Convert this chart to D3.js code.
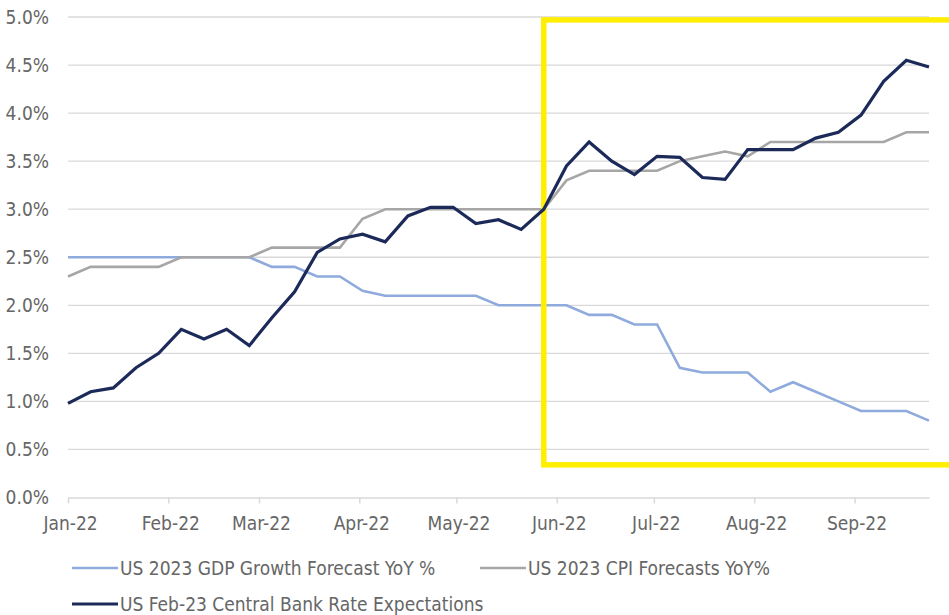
<!DOCTYPE html>
<html>
<head>
<meta charset="utf-8">
<script src="https://cdn.jsdelivr.net/npm/d3@7"></script>
<style>
  html, body { margin: 0; padding: 0; background: #fff; }
  svg { display: block; }
  text { font-family: "Liberation Sans Narrow", "Arial Narrow", "DejaVu Sans Condensed", sans-serif; fill: #666; }
</style>
</head>
<body>
<svg id="chart" width="949" height="615"></svg>
<script>
// Weekly observation dates
const weeks = [
  "2022-01-01","2022-01-08","2022-01-15","2022-01-22","2022-01-29",
  "2022-02-05","2022-02-12","2022-02-19","2022-02-26",
  "2022-03-05","2022-03-12","2022-03-19","2022-03-26",
  "2022-04-02","2022-04-09","2022-04-16","2022-04-23","2022-04-30",
  "2022-05-07","2022-05-14","2022-05-21","2022-05-28",
  "2022-06-04","2022-06-11","2022-06-18","2022-06-25",
  "2022-07-02","2022-07-09","2022-07-16","2022-07-23","2022-07-30",
  "2022-08-06","2022-08-13","2022-08-20","2022-08-27",
  "2022-09-03","2022-09-10","2022-09-17","2022-09-24"
];

// US 2023 GDP growth forecast, YoY %
const gdpForecast = [
  2.5, 2.5, 2.5, 2.5, 2.5, 2.5, 2.5, 2.5, 2.5,
  2.4, 2.4, 2.3, 2.3, 2.15, 2.1, 2.1, 2.1, 2.1, 2.1,
  2.0, 2.0, 2.0, 2.0, 1.9, 1.9, 1.8, 1.8, 1.35, 1.3, 1.3, 1.3,
  1.1, 1.2, 1.1, 1.0, 0.9, 0.9, 0.9, 0.8
];

// US 2023 CPI forecasts, YoY %
const cpiForecast = [
  2.3, 2.4, 2.4, 2.4, 2.4, 2.5, 2.5, 2.5, 2.5,
  2.6, 2.6, 2.6, 2.6, 2.9, 3.0, 3.0, 3.0, 3.0, 3.0,
  3.0, 3.0, 3.0, 3.3, 3.4, 3.4, 3.4, 3.4, 3.5, 3.55, 3.6, 3.55,
  3.7, 3.7, 3.7, 3.7, 3.7, 3.7, 3.8, 3.8
];

// US Feb-23 central bank rate expectations, %
const rateExpectations = [
  0.98, 1.10, 1.14, 1.35, 1.50, 1.75, 1.65, 1.75, 1.58,
  1.87, 2.14, 2.55, 2.69, 2.74, 2.66, 2.93, 3.02, 3.02, 2.85,
  2.89, 2.79, 3.00, 3.45, 3.70, 3.50, 3.36, 3.55, 3.54, 3.33, 3.31,
  3.62, 3.62, 3.62, 3.74, 3.80, 3.98, 4.33, 4.55, 4.48
];

const yTicks = [0, 0.5, 1.0, 1.5, 2.0, 2.5, 3.0, 3.5, 4.0, 4.5, 5.0];

const seriesNames = [
  "US 2023 GDP Growth Forecast YoY %",
  "US 2023 CPI Forecasts YoY%",
  "US Feb-23 Central Bank Rate Expectations"
];
const seriesColors = ["#8faadc", "#a6a6a6", "#1c2a5a"];

// Highlighted period (from this week onward), in % units
const highlightStart = "2022-05-28";
const highlightTop = 4.97;
const highlightBottom = 0.34;

const svg = d3.select("#chart");
const W = 949, H = 615;
const margin = { left: 68, right: 20, top: 17, bottom: 118 };
const fontSize = 19;

const parse = d3.utcParse("%Y-%m-%d");
const dates = weeks.map(parse);

const x = d3.scaleUtc()
  .domain(d3.extent(dates))
  .range([margin.left, W - margin.right]);

const y = d3.scaleLinear()
  .domain([0, 5])
  .range([H - margin.bottom + 0.5, margin.top]);

// Horizontal gridlines
svg.append("g")
  .selectAll("line")
  .data(yTicks.filter(d => d > 0))
  .join("line")
  .attr("x1", x.range()[0]).attr("x2", x.range()[1])
  .attr("y1", d => y(d)).attr("y2", d => y(d))
  .attr("stroke", "#d9d9d9").attr("stroke-width", 1.3);

// Y axis labels
const yAxis = d3.axisLeft(y)
  .tickValues(yTicks)
  .tickFormat(d => d.toFixed(1) + "%")
  .tickSize(0).tickPadding(0);
const yg = svg.append("g")
  .attr("transform", `translate(${margin.left - 19},0)`)
  .call(yAxis);
yg.select(".domain").remove();
yg.selectAll("text").attr("font-size", fontSize).attr("fill", "#666").attr("dy", "0.34em");

// X axis (month ticks)
const months = d3.utcMonth.range(d3.utcMonth.floor(x.domain()[0]), x.domain()[1]);
const xAxis = d3.axisBottom(x)
  .tickValues(months)
  .tickFormat(d3.utcFormat("%b-%y"))
  .tickSize(6).tickPadding(13).tickSizeOuter(0);
const xg = svg.append("g")
  .attr("transform", `translate(0,${y(0)})`)
  .call(xAxis);
xg.select(".domain").attr("stroke", "#d9d9d9").attr("stroke-width", 1.5);
xg.selectAll(".tick line").attr("stroke", "#d9d9d9").attr("stroke-width", 1.5);
xg.selectAll(".tick text").attr("font-size", fontSize).attr("fill", "#666").attr("dx", 2);

// Series lines
const allSeries = [gdpForecast, cpiForecast, rateExpectations];
const line = d3.line()
  .x((d, i) => x(dates[i]))
  .y(d => y(d));

const widths = [2.6, 2.6, 3.2];
function drawSeries(idx) {
  svg.append("path")
    .datum(allSeries[idx])
    .attr("fill", "none")
    .attr("stroke", seriesColors[idx])
    .attr("stroke-width", widths[idx])
    .attr("stroke-linejoin", "miter")
    .attr("d", line);
}
drawSeries(0);
drawSeries(1);

// Highlight frame around the recent period
svg.append("rect")
  .attr("x", x(parse(highlightStart)))
  .attr("y", y(highlightTop))
  .attr("width", W + 20 - x(parse(highlightStart)))
  .attr("height", y(highlightBottom) - y(highlightTop))
  .attr("fill", "none")
  .attr("stroke", "#ffee00")
  .attr("stroke-width", 5.5);

drawSeries(2);

// Legend
const legendItems = [
  { i: 0, x: 72, y: 568 },
  { i: 1, x: 480, y: 568 },
  { i: 2, x: 72, y: 604 }
];
const lg = svg.append("g");
const item = lg.selectAll("g").data(legendItems).join("g")
  .attr("transform", d => `translate(${d.x},${d.y})`);
item.append("line")
  .attr("x1", 0).attr("x2", 46)
  .attr("stroke", d => seriesColors[d.i])
  .attr("stroke-width", d => widths[d.i]);
item.append("text")
  .attr("x", 48).attr("dy", "0.35em")
  .attr("font-size", fontSize).attr("fill", "#666")
  .text(d => seriesNames[d.i]);
</script>
</body>
</html>
